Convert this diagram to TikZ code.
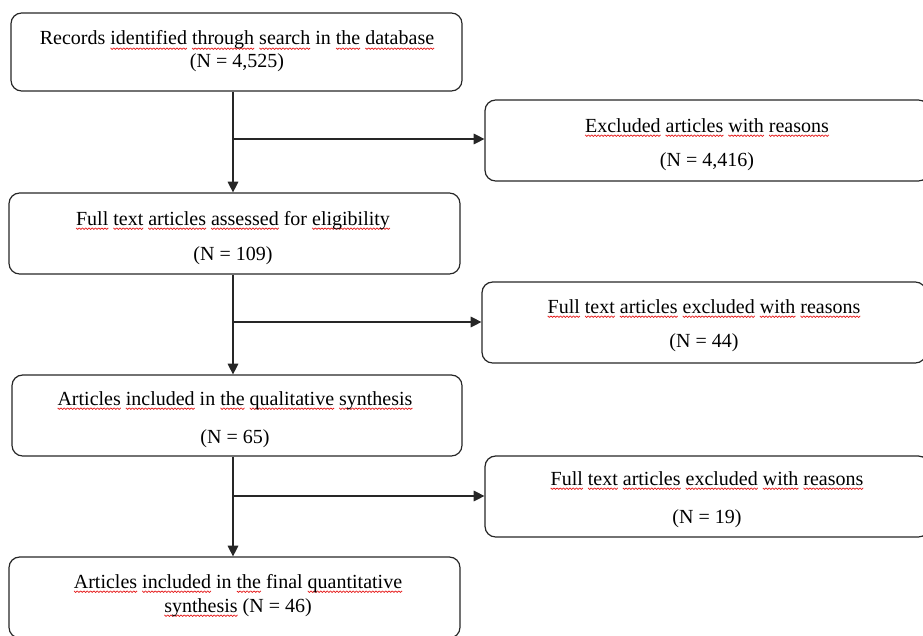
\documentclass[tikz,border=0pt]{standalone}
\usepackage{fontspec}
\setmainfont{Liberation Serif}
\usetikzlibrary{arrows.meta}
\newsavebox\sqbox
\newcommand\squnit{\hbox to 2.4pt{\special{pdf:content q 0.9 0.1 0.1 RG 0.55 w 0 0 m 1.2 -1.1 l 2.4 0 l S Q}\hfil}}
\newcommand\sqw[1]{\sbox\sqbox{#1}\rlap{\lower2.2pt\hbox to\wd\sqbox{\xleaders\squnit\hfil}}\usebox\sqbox}
\begin{document}
\begin{tikzpicture}[x=0.75pt,y=-0.75pt,
  box/.style={draw=black!85, line width=0.9pt, rounded corners=8pt, inner sep=0pt},
  txt/.style={anchor=base, font=\fontsize{15}{18}\selectfont, inner sep=0pt},
  arr/.style={draw=black!85, line width=0.8pt, -{Triangle[length=8pt,width=8pt]}}]
\useasboundingbox (0,0) rectangle (923,635);
% boxes
\node[box, minimum width=338.25pt, minimum height=58.5pt] (b1) at (236.5,52) {};
\node[box, minimum width=333pt, minimum height=60.75pt] (b2) at (707,140.5) {};
\node[box, minimum width=338.25pt, minimum height=60.75pt] (b3) at (234.5,233.5) {};
\node[box, minimum width=333pt, minimum height=60.75pt] (b4) at (704,322.5) {};
\node[box, minimum width=337.5pt, minimum height=60.75pt] (b5) at (237,415.5) {};
\node[box, minimum width=333pt, minimum height=60.75pt] (b6) at (707,496.5) {};
\node[box, minimum width=338.25pt, minimum height=60.75pt] (b7) at (234.5,597.5) {};
% texts
\node[txt] (t1a) at (237,45) {Records \sqw{identified} \sqw{through} \sqw{search} in \sqw{the} \sqw{database}};
\node[txt] (t1b) at (237,67) {(N = 4,525)};
\node[txt] (t2a) at (707,132) {\sqw{Excluded} \sqw{articles} \sqw{with} \sqw{reasons}};
\node[txt] (t2b) at (707,166) {(N = 4,416)};
\node[txt] (t3a) at (233,225) {\sqw{Full} \sqw{text} \sqw{articles} \sqw{assessed} for \sqw{eligibility}};
\node[txt] (t3b) at (233,260) {(N = 109)};
\node[txt] (t4a) at (704,313) {\sqw{Full} \sqw{text} \sqw{articles} \sqw{excluded} \sqw{with} \sqw{reasons}};
\node[txt] (t4b) at (704,347) {(N = 44)};
\node[txt] (t5a) at (235,405) {\sqw{Articles} \sqw{included} in \sqw{the} \sqw{qualitative} \sqw{synthesis}};
\node[txt] (t5b) at (235,443) {(N = 65)};
\node[txt] (t6a) at (707,485) {\sqw{Full} \sqw{text} \sqw{articles} \sqw{excluded} \sqw{with} \sqw{reasons}};
\node[txt] (t6b) at (707,523) {(N = 19)};
\node[txt] (t7a) at (238,588) {\sqw{Articles} \sqw{included} in \sqw{the} final \sqw{quantitative}};
\node[txt] (t7b) at (238,612) {\sqw{synthesis} (N = 46)};
% junctions
\coordinate (j1) at (233,139);
\coordinate (j2) at (233,322);
\coordinate (j3) at (233,496);
% connectors
\draw[arr] (b1.south -| j1) -- (b3.north -| j1);
\draw[arr] (j1) -- (j1 -| b2.west);
\draw[arr] (b3.south -| j2) -- (b5.north -| j2);
\draw[arr] (j2) -- (j2 -| b4.west);
\draw[arr] (b5.south -| j3) -- (b7.north -| j3);
\draw[arr] (j3) -- (j3 -| b6.west);
\end{tikzpicture}
\end{document}
